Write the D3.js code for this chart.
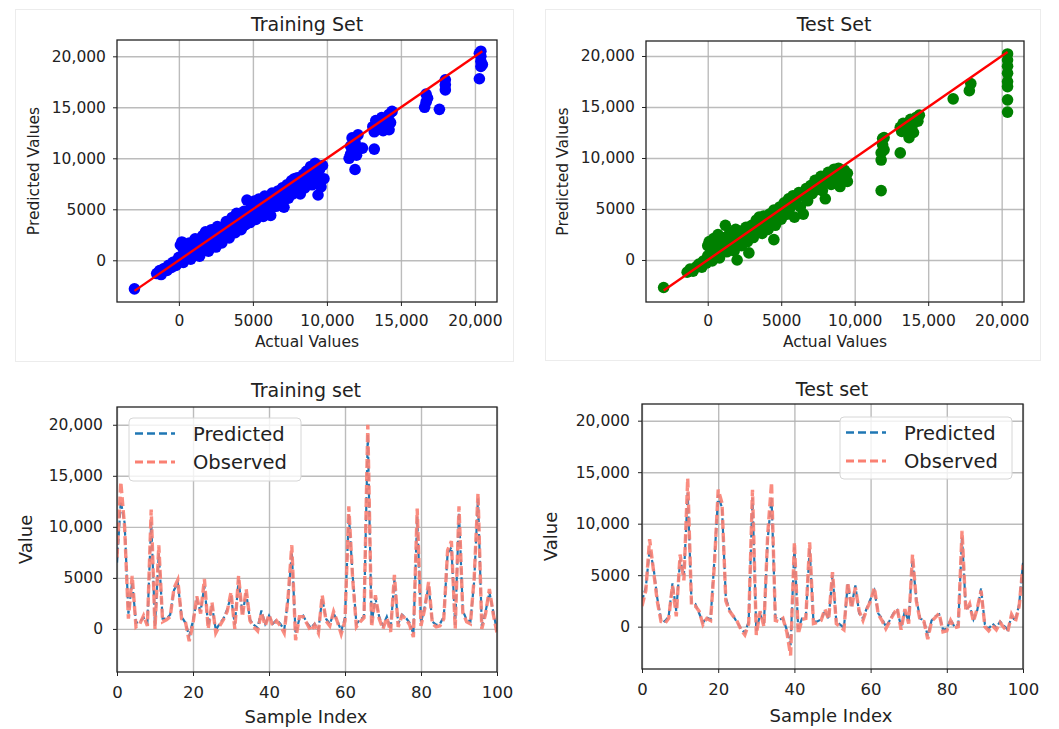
<!DOCTYPE html>
<html>
<head>
<meta charset="utf-8">
<script src="https://cdn.jsdelivr.net/npm/d3@7"></script>
<style>
body { margin: 0; background: #fff; }
text { font-family: "DejaVu Sans", sans-serif; fill: #222; }
</style>
</head>
<body>
<svg id="chart"></svg>
<script>
var W = 1059
var H = 729

// scatter data: [actual, predicted]
var trainScatter = [
  [-3000,-2800],
  [-1500,-1300],[-1300,-1000],[-1200,-1400],[-1000,-800],[-800,-1000],[-700,-500],[-500,-700],[-400,-200],[-200,-500],[-100,0],
  [0,300],[100,1500],[200,1800],[300,-200],[400,800],[500,400],[600,1300],[700,1700],[800,100],[900,900],
  [1000,600],[1100,1600],[1200,2000],[1300,1000],[1400,400],[1500,1400],[1600,2400],[1700,1100],[1800,2800],[1900,1700],
  [2000,900],[2100,2300],[2200,3000],[2300,1600],[2400,2600],[2500,1300],[2600,3300],[2700,2100],[2800,2700],[2900,1700],
  [3000,3200],[3100,2500],[3200,3800],[3300,2900],[3400,2200],[3500,3600],[3600,4200],[3700,3100],[3800,2700],[3900,4600],
  [4000,3600],[4100,4300],[4200,3000],[4300,4000],[4400,4800],[4500,3500],[4600,5900],[4700,4400],[4800,3700],[4900,5200],
  [5000,4600],[5100,5800],[5200,4000],[5300,5300],[5400,6000],[5500,4900],[5600,5600],[5700,4300],[5800,6300],[5900,5200],
  [6000,6000],[6100,5100],[6200,4400],[6300,6600],[6400,5700],[6500,6200],[6600,5300],[6700,6800],[6800,6000],[6900,5600],
  [7000,7100],[7100,5200],[7200,6500],[7300,7400],[7400,6100],[7500,7000],[7600,7800],[7700,6500],[7800,7300],[7900,6900],
  [8000,8100],[8100,7500],[8200,6500],[8300,7900],[8400,8400],[8500,7100],[8600,8700],[8700,7700],[8800,8200],[8900,9200],
  [9000,7400],[9100,8600],[9200,9500],[9300,8000],[9400,6400],[9500,8900],[9600,7200],[9800,8000],[9700,9300],[9400,9100],
  [300,1100],[600,500],[1100,2100],[1700,2000],[2200,1900],[2700,3000],[3300,3600],[3800,3500],[4300,3300],[4800,4500],
  [5300,4500],[5800,5600],[6300,5200],[6800,6800],[7300,6700],[7800,8000],[8300,7200],[8700,8800],[9100,7900],[9500,7500],
  [11500,10000],[11600,11200],[11700,12000],[11800,10600],[11900,8900],[11900,11600],[12000,10300],[12100,12300],[12200,11000],[12400,11000],[11600,10400],
  [13100,13100],[13200,10900],[13200,12600],[13300,13700],[13400,12900],[13600,13400],[13700,14000],[13800,12700],[13900,13100],[14000,13800],[14200,14300],[14300,13500],[14400,14600],[14200,12800],
  [16600,15000],[16700,15500],[16700,16300],[16800,15900],[17600,14800],[18000,16700],[18000,17200],[18000,17700],
  [20300,17800],[20400,19000],[20400,19500],[20400,20000],[20400,20500],[20500,19200],[20300,20300]
]

var testScatter = [
  [-3000,-2700],
  [-1400,-1200],[-1200,-900],[-1000,-1100],[-800,-700],[-600,-400],[-400,-700],[-300,-100],[-100,-300],[0,1400],[0,400],
  [100,1800],[200,900],[300,-100],[400,2100],[500,600],[600,1400],[700,2500],[800,200],[900,1100],[1000,2200],
  [1100,1600],[1200,3400],[1300,800],[1400,2000],[1500,2700],[1600,1300],[1700,2300],[1800,900],[1900,3000],[2000,0],
  [2000,1900],[2200,2800],[2300,1400],[2500,2500],[2600,3200],[2700,1800],[2800,700],[2900,2600],[3000,3400],[3100,2200],
  [3300,3900],[3400,2800],[3500,4200],[3600,3300],[3700,2600],[3800,4300],[3900,3600],[4100,3000],[4200,4500],[4300,3800],
  [4500,2000],[4500,4900],[4600,3400],[4700,4300],[4900,5200],[5000,4000],[5200,5600],[5300,4700],[5500,6000],[5600,5100],
  [5800,6300],[5900,4200],[6000,5600],[6200,6600],[6300,5200],[6500,4500],[6600,6200],[6700,7000],[6800,5800],[7000,7300],
  [7100,6500],[7300,7800],[7400,6900],[7600,7500],[7700,8200],[7800,6800],[8000,6000],[8100,7800],[8200,8600],[8400,7400],
  [8500,8300],[8600,8900],[8800,7900],[8900,9000],[9000,7200],[9100,8400],[9300,8800],[9400,7800],[9500,7700],[9500,8500],
  [500,1500],[1000,900],[1600,2600],[2400,2000],[3000,2700],[3500,3500],[4000,4100],[4400,3600],[5000,5000],[5400,4500],
  [6100,6100],[6700,6300],[7200,7100],[7700,7400],[8300,8100],[8800,8600],[9200,7900],
  [11800,6800],[11800,9800],[11800,10500],[11900,11300],[11900,11900],[12000,10800],[12000,12000],
  [13100,10500],[13100,13000],[13200,12600],[13300,13400],[13500,12800],[13700,12000],[13800,13800],[13900,13100],[14000,12500],[14200,14000],[14300,13600],[14400,14200],
  [16700,15800],[17800,16600],[17900,17300],
  [20400,14500],[20400,15700],[20400,17000],[20400,17500],[20400,18300],[20400,19000],[20400,19600],[20400,20200]
]

// sample index 0..100
var trainObserved = [7000,14400,10000,1000,5200,200,500,1300,300,11700,
  0,8200,700,900,1200,4000,4800,1000,700,-1200,
  500,3200,1500,4900,0,2600,-400,300,900,1700,
  3600,0,5200,1200,3900,800,200,-200,1600,300,
  1400,300,800,300,-400,3000,8200,-1100,1200,1200,
  500,-200,400,-400,3300,800,300,1700,700,-500,
  800,12000,5000,200,700,1100,20000,200,3300,1000,
  0,1100,-300,5300,200,1300,1000,400,-800,11800,
  300,2000,4600,500,200,300,1000,7700,8600,0,
  12000,1600,700,500,5000,13300,0,1500,3900,1500,
  -400]

var trainPredicted = [6500,12500,10400,1500,4600,600,700,1100,600,10500,
  300,7400,1000,1000,1400,3800,4500,1200,600,-700,
  800,2800,1700,4200,300,2300,-100,500,1000,1900,
  3200,400,4800,1500,3500,900,400,100,1800,500,
  1300,500,900,500,-100,2800,7500,-500,1000,1300,
  600,100,500,-100,3000,1000,500,1500,800,-200,
  1100,11200,5300,500,900,1200,19000,600,3000,1200,
  300,1200,0,4800,500,1400,1100,600,-500,11000,
  600,2200,4200,700,400,500,1200,7400,8000,400,
  11400,1800,900,700,4700,12800,300,1700,3600,1700,
  -200]

var testObserved = [2000,3500,8500,5500,2500,500,300,800,4000,1000,
  7000,4500,14400,2000,2000,1500,200,800,600,6000,
  13300,12000,2500,1500,1000,500,-300,-800,300,13300,
  -800,1500,0,9000,14000,600,500,800,-500,-2800,
  8200,-700,700,800,8200,300,400,600,1700,700,
  5300,300,0,-300,4300,1800,3800,1500,600,1700,
  2500,3800,1200,600,-200,500,1200,1800,-300,1700,
  300,7000,2500,600,500,-1200,500,900,1300,-500,
  -400,600,-100,0,9300,1500,2200,500,1800,3500,
  0,-400,100,-300,400,-100,-500,1200,500,2000,
  6000]

var testPredicted = [2500,3800,7500,5800,2800,700,500,1000,4200,1500,
  6500,5000,13000,2300,2200,1300,400,900,700,6500,
  12800,11500,2800,1600,1000,400,-200,-600,500,12500,
  -400,1200,300,8500,12500,900,700,800,-300,-1800,
  7700,-200,800,900,7600,500,500,700,1500,800,
  5000,500,200,-100,4100,2000,4000,1300,800,1800,
  2700,3500,1300,800,0,600,1300,1600,0,1500,
  500,6500,2700,800,600,-900,600,1000,1200,-300,
  -200,700,0,200,8700,1700,2000,700,1600,3700,
  200,-200,300,-100,500,100,-300,1000,600,2200,
  6200]

var valueTicks = [0, 5000, 10000, 15000, 20000]
var scatterXTicks = [0, 5000, 10000, 15000, 20000]
var indexTicks = [0, 20, 40, 60, 80, 100]
var seriesNames = ["Predicted", "Observed"]

var svg = d3.select("#chart").attr("width", W).attr("height", H)
svg.append("rect").attr("width", W).attr("height", H).attr("fill", "#fff")

// faint outlines round the two upper figures
svg.append("rect").attr("x", 15.5).attr("y", 9.5).attr("width", 498).attr("height", 352)
  .attr("fill", "none").attr("stroke", "#ececec")
svg.append("rect").attr("x", 545.5).attr("y", 9.5).attr("width", 495).attr("height", 351)
  .attr("fill", "none").attr("stroke", "#ececec")

function fmt(d) {
  return Math.abs(d) >= 10000 ? d3.format(",")(d) : String(d)
}

// builds one subplot: grid underneath, a data layer, then frame + ticks on top
function makePanel(p) {
  var w = p.right - p.left, h = p.bottom - p.top
  var g = svg.append("g").attr("transform", "translate(" + p.left + "," + p.top + ")")
  var x = d3.scaleLinear().domain(p.xDomain).range([0, w])
  var y = d3.scaleLinear().domain(p.yDomain).range([h, 0])

  var grid = g.append("g")
  grid.append("g").attr("transform", "translate(0," + h + ")")
    .call(d3.axisBottom(x).tickValues(p.xTicks).tickSize(-h).tickFormat(""))
  grid.append("g")
    .call(d3.axisLeft(y).tickValues(valueTicks).tickSize(-w).tickFormat(""))
  grid.selectAll(".domain").remove()
  grid.selectAll("line").attr("stroke", "#b0b0b0").attr("stroke-width", 1.4).attr("stroke-opacity", 0.85)

  var data = g.append("g")
  var clipId = "clip" + Math.round(p.left) + "_" + Math.round(p.top)
  g.append("clipPath").attr("id", clipId).append("rect").attr("width", w).attr("height", h)
  if (p.clip) data.attr("clip-path", "url(#" + clipId + ")")

  var axes = g.append("g")
  var xa = axes.append("g").attr("transform", "translate(0," + h + ")")
    .call(d3.axisBottom(x).tickValues(p.xTicks).tickSize(4).tickPadding(p.xPad).tickFormat(fmt))
  var ya = axes.append("g")
    .call(d3.axisLeft(y).tickValues(valueTicks).tickSize(4).tickPadding(p.yPad).tickFormat(fmt))
  axes.selectAll(".domain").remove()
  axes.selectAll(".tick line").attr("stroke", "#222").attr("stroke-width", 1)
  xa.selectAll("text").attr("font-size", p.xFont)
  ya.selectAll("text").attr("font-size", p.yFont)
  axes.append("rect").attr("width", w).attr("height", h)
    .attr("fill", "none").attr("stroke", "#222").attr("stroke-width", 1.3)

  svg.append("text").attr("x", p.titleX).attr("y", p.titleY).attr("text-anchor", "middle")
    .attr("font-size", 19).text(p.title)
  svg.append("text").attr("x", p.xLabelX).attr("y", p.xLabelY).attr("text-anchor", "middle")
    .attr("font-size", p.labelFont).text(p.xLabel)
  svg.append("text").attr("text-anchor", "middle").attr("font-size", p.labelFont)
    .attr("transform", "translate(" + p.yLabelX + "," + (p.top + h / 2) + ") rotate(-90)")
    .text(p.yLabel)

  return { data: data, x: x, y: y }
}

function scatterPanel(p, points, color) {
  var s = makePanel(p)
  s.data.selectAll("circle").data(points).enter().append("circle")
    .attr("cx", d => s.x(d[0]))
    .attr("cy", d => s.y(d[1]))
    .attr("r", 5.8)
    .attr("fill", color)
  var ext = d3.extent(points, d => d[0])
  s.data.append("line")
    .attr("x1", s.x(ext[0])).attr("y1", s.y(ext[0]))
    .attr("x2", s.x(ext[1])).attr("y2", s.y(ext[1]))
    .attr("stroke", "#ff0000").attr("stroke-width", 2.4)
}

var predColor = "#1f77b4"
var obsColor = "#fa8072"

function linePanel(p, predicted, observed, legend) {
  var s = makePanel(p)
  var line = d3.line().x((d, i) => s.x(i)).y(d => s.y(d))
  s.data.append("path").datum(predicted).attr("d", line)
    .attr("fill", "none").attr("stroke", predColor).attr("stroke-width", 2.2)
    .attr("stroke-dasharray", "6,3")
  s.data.append("path").datum(observed).attr("d", line)
    .attr("fill", "none").attr("stroke", obsColor).attr("stroke-width", 3.4)
    .attr("stroke-opacity", 0.9).attr("stroke-dasharray", "9,4")

  var lg = svg.append("g")
  lg.append("rect").attr("x", legend.x).attr("y", legend.y).attr("width", legend.w).attr("height", legend.h)
    .attr("rx", 4).attr("fill", "#fff").attr("fill-opacity", 0.8).attr("stroke", "#d6d6d6")
  var colors = [predColor, obsColor]
  var widths = [2.4, 3]
  seriesNames.forEach(function (name, i) {
    var ly = legend.y + 15.5 + i * 28.5
    lg.append("line").attr("x1", legend.x + 6).attr("x2", legend.x + 46)
      .attr("y1", ly).attr("y2", ly)
      .attr("stroke", colors[i]).attr("stroke-width", widths[i]).attr("stroke-dasharray", "8,4")
    lg.append("text").attr("x", legend.x + 64).attr("y", ly + 7)
      .attr("font-size", 19.5).text(name)
  })
}

scatterPanel({
  left: 117, top: 40, right: 497, bottom: 302,
  xDomain: [-4180, 21490], yDomain: [-4090, 21600], xTicks: scatterXTicks,
  xPad: 9, yPad: 7, xFont: 15.5, yFont: 15.5, labelFont: 15.5,
  title: "Training Set", titleX: 307, titleY: 31,
  xLabel: "Actual Values", xLabelX: 307, xLabelY: 347,
  yLabel: "Predicted Values", yLabelX: 39
}, trainScatter, "#0000ff")

scatterPanel({
  left: 646, top: 41, right: 1024, bottom: 302,
  xDomain: [-4200, 21520], yDomain: [-4120, 21470], xTicks: scatterXTicks,
  xPad: 9, yPad: 7, xFont: 15.5, yFont: 15.5, labelFont: 15.5,
  title: "Test Set", titleX: 834, titleY: 31,
  xLabel: "Actual Values", xLabelX: 835, xLabelY: 347,
  yLabel: "Predicted Values", yLabelX: 568
}, testScatter, "#008000")

linePanel({
  left: 117, top: 407, right: 497, bottom: 672, clip: true,
  xDomain: [0, 100], yDomain: [-4220, 21740], xTicks: indexTicks,
  xPad: 10, yPad: 10, xFont: 16.5, yFont: 15.5, labelFont: 18,
  title: "Training set", titleX: 306, titleY: 397,
  xLabel: "Sample Index", xLabelX: 306, xLabelY: 723,
  yLabel: "Value", yLabelX: 32
}, trainPredicted, trainObserved, { x: 129, y: 418, w: 172, h: 63 })

linePanel({
  left: 642, top: 404, right: 1023, bottom: 669, clip: true,
  xDomain: [0, 100], yDomain: [-4110, 21620], xTicks: indexTicks,
  xPad: 10, yPad: 8, xFont: 16.5, yFont: 15.5, labelFont: 18,
  title: "Test set", titleX: 832, titleY: 396,
  xLabel: "Sample Index", xLabelX: 831, xLabelY: 722,
  yLabel: "Value", yLabelX: 557
}, testPredicted, testObserved, { x: 840, y: 417, w: 172, h: 62 })
</script>
</body>
</html>
